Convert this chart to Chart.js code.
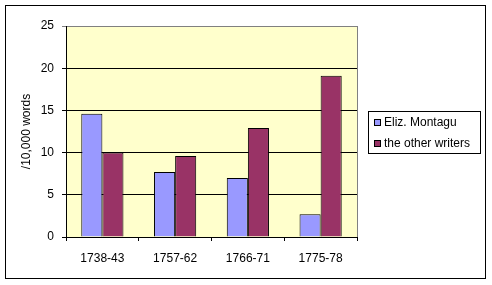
<!DOCTYPE html>
<html>
<head>
<meta charset="utf-8">
<script src="https://cdn.jsdelivr.net/npm/chart.js@4.4.1/dist/chart.umd.min.js"></script>
<style>
  html, body { margin: 0; padding: 0; background: #fff; }
  #chart { display: block; }
</style>
</head>
<body>
<canvas id="chart" width="492" height="285"></canvas>
<script>
// Data
const periods = ['1738-43', '1757-62', '1766-71', '1775-78'];
const montaguValues = [14.6, 7.7, 7.0, 2.7];
const otherValues = [10.0, 9.6, 12.9, 19.1];
const seriesNames = ['Eliz. Montagu', 'the other writers'];
const yTicks = [0, 5, 10, 15, 20, 25];

const FONT = "'Liberation Sans', Arial, sans-serif";

// Outer frame + yellow plot area
const framePlugin = {
  id: 'frame',
  beforeDraw(chart) {
    const { ctx, chartArea: a } = chart;
    ctx.save();
    ctx.fillStyle = '#fff';
    ctx.fillRect(0, 0, chart.width, chart.height);
    ctx.strokeStyle = '#000';
    ctx.lineWidth = 1;
    ctx.strokeRect(5.5, 5.5, 480, 273);
    ctx.fillStyle = '#FFFFCC';
    ctx.fillRect(a.left, a.top, a.right - a.left, a.bottom - a.top);
    ctx.restore();
  },
  afterDatasetsDraw(chart) {
    const { ctx, chartArea: a } = chart;
    ctx.save();
    ctx.strokeStyle = '#808080';
    ctx.lineWidth = 1;
    ctx.beginPath();
    ctx.moveTo(Math.round(a.right) + 0.5, a.top);
    ctx.lineTo(Math.round(a.right) + 0.5, a.bottom);
    ctx.stroke();
    ctx.restore();
  }
};

// Excel-style boxed legend
const legendPlugin = {
  id: 'boxLegend',
  afterDraw(chart) {
    const { ctx } = chart;
    const x = 368, y = 111, w = 112, h = 42;
    ctx.save();
    ctx.fillStyle = '#fff';
    ctx.fillRect(x, y, w, h);
    ctx.strokeStyle = '#000';
    ctx.lineWidth = 1;
    ctx.strokeRect(x + 0.5, y + 0.5, w, h);
    ctx.font = '12px ' + FONT;
    ctx.textBaseline = 'middle';
    chart.data.datasets.forEach((ds, i) => {
      const cy = y + 12 + i * 20.5;
      ctx.fillStyle = ds.backgroundColor;
      ctx.fillRect(x + 6, Math.round(cy) - 4, 7, 7);
      ctx.strokeStyle = '#000';
      ctx.strokeRect(x + 6.5, Math.round(cy) - 3.5, 6, 6);
      ctx.fillStyle = '#000';
      ctx.fillText(ds.label, x + 16, cy);
    });
    ctx.restore();
  }
};

new Chart(document.getElementById('chart'), {
  type: 'bar',
  data: {
    labels: periods,
    datasets: [
      {
        label: seriesNames[0],
        data: montaguValues,
        backgroundColor: '#9999FF',
        borderColor: '#000',
        borderWidth: 1,
      },
      {
        label: seriesNames[1],
        data: otherValues,
        backgroundColor: '#993366',
        borderColor: '#000',
        borderWidth: 1,
      },
    ],
  },
  options: {
    responsive: false,
    animation: false,
    devicePixelRatio: 1,
    categoryPercentage: 0.58,
    barPercentage: 1,
    layout: { padding: { left: 0, right: 135, top: 26, bottom: 0 } },
    plugins: {
      legend: { display: false },
      tooltip: { enabled: false },
    },
    scales: {
      x: {
        afterFit: (scale) => { scale.height = 48; },
        grid: {
          offset: true,
          drawOnChartArea: false,
          tickLength: 4,
          color: '#000',
        },
        border: { color: '#000' },
        ticks: {
          color: '#000',
          padding: 10,
          font: { family: FONT, size: 12 },
        },
      },
      y: {
        min: 0,
        max: 25,
        afterFit: (scale) => { scale.width = 66; },
        afterBuildTicks: (scale) => { scale.ticks = yTicks.map(v => ({ value: v })); },
        grid: {
          color: (c) => (c.tick && c.tick.value === 25 ? '#808080' : '#000'),
          tickLength: 4,
        },
        border: { color: '#000' },
        ticks: {
          color: '#000',
          padding: 8,
          font: { family: FONT, size: 12 },
        },
        title: {
          display: true,
          text: '/10,000 words',
          color: '#000',
          padding: { top: 19, bottom: 0 },
          font: { family: FONT, size: 12 },
        },
      },
    },
  },
  plugins: [framePlugin, legendPlugin],
});
</script>
</body>
</html>
